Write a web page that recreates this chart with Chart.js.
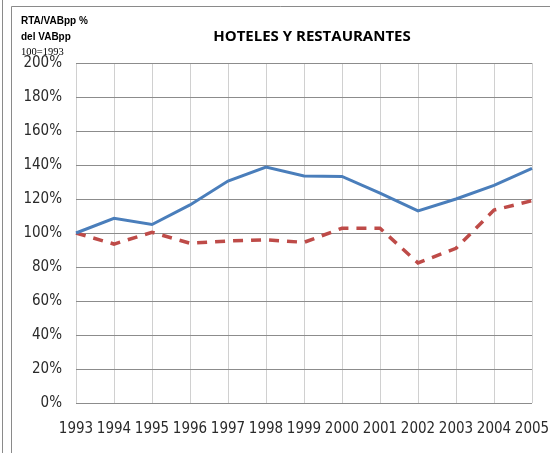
<!DOCTYPE html>
<html>
<head>
<meta charset="utf-8">
<script src="https://cdn.jsdelivr.net/npm/chart.js@4.4.1/dist/chart.umd.min.js"></script>
<style>
  html, body { margin:0; padding:0; background:#fff; }
  #wrap { position:relative; width:550px; height:453px; }
</style>
</head>
<body>
<div id="wrap"><canvas id="chart" width="550" height="453"></canvas></div>
<script>
    // ─── Data ───────────────────────────────────────────────────────────
    const years = ['1993','1994','1995','1996','1997','1998','1999','2000','2001','2002','2003','2004','2005'];
    const serieAzul = [100, 108.6, 105, 116.5, 130.6, 138.8, 133.5, 133.3, 123.5, 113, 120, 128, 138];
    const serieRoja = [100, 93.5, 100.4, 94, 95.3, 96, 94.5, 102.8, 102.8, 82.4, 91, 113.5, 119];
    const titulo = 'HOTELES Y RESTAURANTES';
    const notaEje = ['RTA/VABpp %', 'del VABpp', '100=1993'];

    const FONT = "'Liberation Sans Narrow', 'DejaVu Sans Condensed', 'Open Sans', sans-serif";

    // frame lines + title + small axis note
    const decor = {
        id: 'decor',
        beforeDraw(chart) {
            const ctx = chart.ctx;
            ctx.save();
            ctx.strokeStyle = '#8a8a8a';
            ctx.lineWidth = 1;
            ctx.beginPath();
            ctx.moveTo(2.5, 0); ctx.lineTo(2.5, 453);
            ctx.moveTo(11.5, 453); ctx.lineTo(11.5, 6.5); ctx.lineTo(550, 6.5);
            ctx.stroke();
            ctx.restore();
        },
        afterDraw(chart) {
            const ctx = chart.ctx;
            ctx.save();
            ctx.fillStyle = '#000';
            ctx.textAlign = 'center';
            ctx.textBaseline = 'middle';
            ctx.font = "bold 15px 'Open Sans', sans-serif";
            ctx.fillText(titulo, 312, 37);
            ctx.textAlign = 'left';
            ctx.font = "bold 10px 'Liberation Sans', sans-serif";
            ctx.fillText(notaEje[0], 21, 21);
            ctx.fillText(notaEje[1], 21, 37);
            ctx.font = "10.5px 'Liberation Serif', serif";
            ctx.fillText(notaEje[2], 21, 52);
            ctx.restore();
        }
    };

    new Chart(document.getElementById('chart'), {
        type: 'line',
        data: {
            labels: years,
            datasets: [
                { label: 'Azul', data: serieAzul, borderColor: '#4a7ebb', borderWidth: 3, pointRadius: 0, fill: false, tension: 0 },
                { label: 'Roja', data: serieRoja, borderColor: '#be4b48', borderWidth: 3.5, borderDash: [10, 8], pointRadius: 0, fill: false, tension: 0 }
            ]
        },
        options: {
            responsive: false,
            animation: false,
            layout: { padding: { left: 0, right: 18, top: 63, bottom: 0 } },
            plugins: { legend: { display: false }, tooltip: { enabled: false } },
            scales: {
                x: {
                    offset: false,
                    grid: { color: '#d0d0d0', drawTicks: false, offset: false },
                    border: { display: false },
                    ticks: { color: '#2a2a2a', font: { family: FONT, size: 15 }, padding: 17, maxRotation: 0, autoSkip: false },
                    afterFit(s) { s.height = 50; s.paddingLeft = 0; s.paddingRight = 0; }
                },
                y: {
                    min: 0, max: 200,
                    grid: { color: '#8c8c8c', drawTicks: false },
                    border: { display: false },
                    ticks: { stepSize: 20, color: '#2a2a2a', font: { family: FONT, size: 15 }, padding: 14, callback: v => v + '%' },
                    afterFit(s) { s.width = 76; s.paddingTop = 0; s.paddingBottom = 0; }
                }
            }
        },
        plugins: [decor]
    });
</script>
</body>
</html>
